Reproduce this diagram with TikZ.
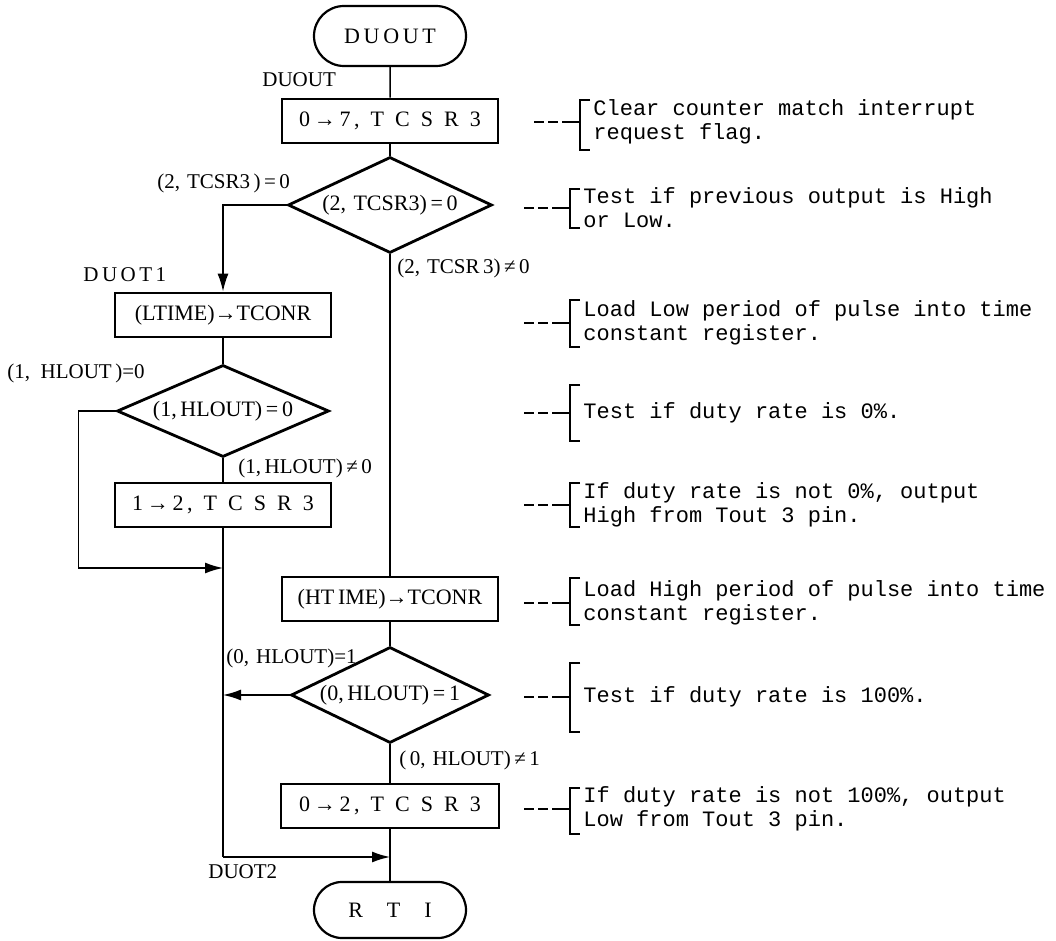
\documentclass[tikz,border=0pt]{standalone}
\usepackage{fontspec}
\setmainfont{Liberation Serif}
\setmonofont{Liberation Mono}
\usetikzlibrary{arrows.meta,positioning,shapes.geometric,shapes.misc}
\tikzset{term/.style={draw,rounded rectangle,line width=1.1pt,minimum width=76pt,minimum height=30pt,inner sep=0pt,font=\fontsize{11}{13}\selectfont},proc/.style={draw,line width=1.4pt,minimum width=108pt,minimum height=22pt,inner sep=0pt,font=\fontsize{11}{13}\selectfont},test/.style={draw,diamond,aspect=2.1,line width=1.4pt,minimum width=102pt,minimum height=48pt,inner sep=0pt,font=\fontsize{11}{13}\selectfont},flow/.style={line width=.75pt},lbl/.style={anchor=west,inner sep=0pt,font=\fontsize{10.5}{12}\selectfont},note/.style={anchor=west,inner sep=0pt,align=left,font=\ttfamily\fontsize{11}{12}\selectfont},every picture/.style={>={Latex[length=9pt,width=5.5pt]}}}

\begin{document}
\begin{tikzpicture}[x=.5pt,y=-.5pt]
\useasboundingbox (0,0) rectangle (1056,941);
% Main column, entry and first test.
\node[term] (duout) at (390,36) {D\,U\,O\,U\,T};
\node[lbl] (lduout) at (262,80) {DUOUT};
\node[proc] (clrflag) at (390,121) {0\,→\,7\,,\enspace T\enspace C\enspace S\enspace R\enspace 3};
\node[test] (prevout) at (390,205) {(2,\,\,TCSR3)\,=\,0};
\node[lbl] (lprev0) at (157,183) {(2,\,\,TCSR3\,)\,=\,0};
\node[lbl] (lprev1) at (397,268) {(2,\,\,TCSR\,3)\,≠\,0};
% Low branch (DUOT1).
\node[lbl] (lduot1) at (83,275) {D\,U\,O\,T\,1};
\node[proc] (ltime) at (223,315) {(LTIME)→TCONR};
\node[test,minimum width=106pt,minimum height=46pt] (zerotest) at (223,411) {(1,\,HLOUT)\,=\,0};
\node[lbl] (lzero0) at (7,373) {(1,\enspace HLOUT\,)=0};
\node[lbl] (lzero1) at (238,468) {(1,\,HLOUT)\,≠\,0};
\node[proc] (sethigh) at (223,505) {1\,→\,2\,,\enspace T\enspace C\enspace S\enspace R\enspace 3};
% High branch.
\node[proc] (htime) at (390,599) {(HT\,IME)→TCONR};
\node[test,minimum width=99pt] (fulltest) at (390,695) {(0,\,HLOUT)\,=\,1};
\node[lbl] (lfull1) at (226,658) {(0,\,\,HLOUT)=1};
\node[lbl] (lfull0) at (399,760) {(\,0,\,\,HLOUT)\,≠\,1};
\node[proc,minimum width=109pt] (setlow) at (390,806) {0\,→\,2\,,\enspace T\enspace C\enspace S\enspace R\enspace 3};
% Exit (DUOT2).
\node[lbl] (lduot2) at (208,872) {DUOT2};
\node[term,minimum height=28pt] (rti) at (390,910) {R\hspace{12pt}T\hspace{12pt}I};
\coordinate (join1) at (223,568);
\coordinate (join2) at (223,857);
% Connectors.
\draw[flow] (duout) -- (clrflag);
\draw[flow] (clrflag) -- (prevout);
\draw[flow,->] (prevout.west) -| (ltime.north);
\draw[flow] (prevout) -- (htime);
\draw[flow] (ltime) -- (zerotest);
\draw[flow] (zerotest) -- (sethigh);
\draw[flow,->] (zerotest.west) -- ++(-37,0) |- (join1);
\draw[flow] (sethigh) -- (join2);
\draw[flow,->] (join2) -- (join2 -| rti.north);
\draw[flow] (htime) -- (fulltest);
\draw[flow,->] (fulltest.west) -- (fulltest.west -| join1);
\draw[flow] (fulltest) -- (setlow);
\draw[flow] (setlow) -- (rti);
% Comments on the right: dashes, bracket, text.
\foreach \y/\t/\b/\dx/\txt in {
  122/100/150/10/{Clear counter match interrupt\\request flag.},
  208/189/228/0/{Test if previous output is High\\or Low.},
  323/300/347/0/{Load Low period of pulse into time\\constant register.},
  413/385/441/0/{Test if duty rate is 0\%.},
  505/483/527/0/{If duty rate is not 0\%, output\\High from Tout 3 pin.},
  603/578/625/0/{Load High period of pulse into time\\constant register.},
  697/663/732/0/{Test if duty rate is 100\%.},
  809/788/834/0/{If duty rate is not 100\%, output\\Low from Tout 3 pin.}}{
  \draw[flow] (524+\dx,\y) -- (534+\dx,\y) (538+\dx,\y) -- (548+\dx,\y) (552+\dx,\y) -- (570+\dx,\y);
  \draw[flow] (580+\dx,\t) -- (570+\dx,\t) -- (570+\dx,\b) -- (580+\dx,\b);
  \node[note] at (583+\dx,\y) {\txt};
}
\end{tikzpicture}
\end{document}
